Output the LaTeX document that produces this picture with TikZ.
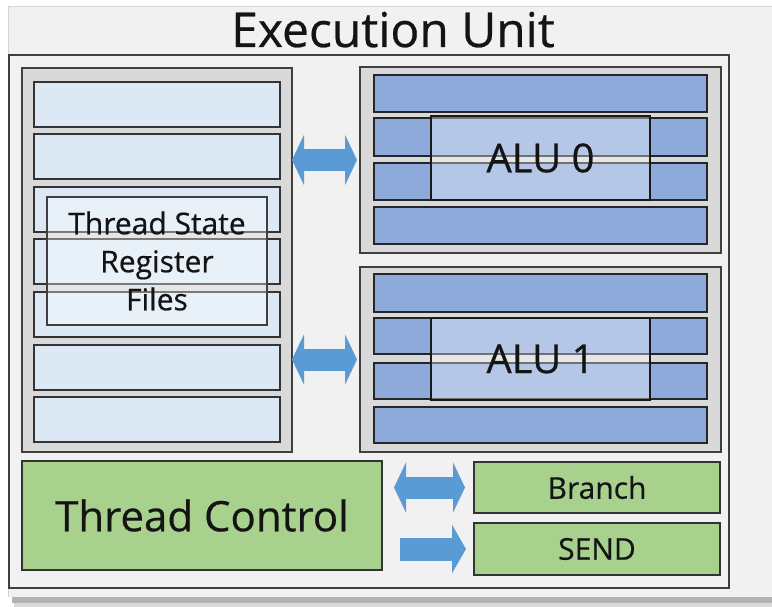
\documentclass[tikz,border=0pt]{standalone}
\usepackage{fontspec}
\setmainfont{Open Sans}[RawFeature={embolden=0.5}]
\usetikzlibrary{arrows.meta}
\definecolor{panel}{HTML}{F1F1F1}
\definecolor{panelline}{HTML}{D4D4D4}
\definecolor{frame}{HTML}{3F3F3F}
\definecolor{contfill}{HTML}{D9D9D9}
\definecolor{regfill}{HTML}{DDE8F5}
\definecolor{alufill}{HTML}{8EAADB}
\definecolor{greenfill}{HTML}{A9D18E}
\definecolor{arrowblue}{HTML}{5B9BD5}
\definecolor{txt}{HTML}{141414}
\begin{document}
\begin{tikzpicture}[x=1pt,y=-1pt,
  box/.style={rectangle, inner sep=0pt, outer sep=0pt, anchor=north west, text=txt},
  container/.style={box, draw=frame, line width=2.2pt, fill=contfill},
  regrow/.style={box, draw=black!80, line width=2pt, fill=regfill},
  alurow/.style={box, draw=black!85, line width=2pt, fill=alufill},
  overlaybox/.style={box, draw=black!75, line width=2pt, fill=white, fill opacity=0.35, text opacity=1},
  greenbox/.style={box, draw=black!80, line width=2pt, fill=greenfill},
  dblarrow/.style={arrowblue, line width=22pt, {Triangle[length=12pt,width=50pt]}-{Triangle[length=12pt,width=50pt]}},
  sglarrow/.style={arrowblue, line width=23pt, -{Triangle[length=14pt,width=48pt]}}
]
\useasboundingbox (0,0) rectangle (772,607);
\fill[white] (0,0) rectangle (772,607);
% shadow
\fill[black!30] (12,597) rectangle (772,603);
\fill[black!15] (14,603) rectangle (772,607);
% panel
\fill[panel] (8,7) rectangle (772,597);
\draw[panelline, line width=1pt] (772,7) -- (8,7) -- (8,597);
\node[anchor=base, font=\fontsize{48}{52}\selectfont, text=txt] (title) at (393,47) {Execution Unit};
% inner frame
\node[box, draw=frame, line width=2.4pt, minimum width=720pt, minimum height=533pt] (eu) at (9,55) {};
% register file container
\node[container, minimum width=270pt, minimum height=384pt] (regs) at (22,68) {};
\node[regrow, minimum width=246pt, minimum height=45pt] (r1) at (34,82) {};
\node[regrow, minimum width=246pt, minimum height=45pt] (r2) at (34,134) {};
\node[regrow, minimum width=246pt, minimum height=45pt] (r3) at (34,187) {};
\node[regrow, minimum width=246pt, minimum height=45pt] (r4) at (34,239) {};
\node[regrow, minimum width=246pt, minimum height=45pt] (r5) at (34,292) {};
\node[regrow, minimum width=246pt, minimum height=45pt] (r6) at (34,345) {};
\node[regrow, minimum width=246pt, minimum height=45pt] (r7) at (34,397) {};
\node[overlaybox, minimum width=220pt, minimum height=128pt, align=center,
      font=\fontsize{30}{38}\selectfont] (tsrf) at (47,197) {Thread State\\Register\\Files};
% ALU 0
\node[container, minimum width=361pt, minimum height=186pt] (alu0c) at (360,67) {};
\node[alurow, minimum width=333pt, minimum height=37pt] (a0r1) at (374,75) {};
\node[alurow, minimum width=333pt, minimum height=38pt] (a0r2) at (374,118) {};
\node[alurow, minimum width=333pt, minimum height=37pt] (a0r3) at (374,163) {};
\node[alurow, minimum width=333pt, minimum height=37pt] (a0r4) at (374,207) {};
\node[overlaybox, draw=black!90, minimum width=219pt, minimum height=84pt,
      font=\fontsize{40}{44}\selectfont] (alu0) at (431,116) {ALU 0};
% ALU 1
\node[container, minimum width=361pt, minimum height=185pt] (alu1c) at (360,267) {};
\node[alurow, minimum width=333pt, minimum height=38pt] (a1r1) at (374,274) {};
\node[alurow, minimum width=333pt, minimum height=36pt] (a1r2) at (374,318) {};
\node[alurow, minimum width=333pt, minimum height=36pt] (a1r3) at (374,363) {};
\node[alurow, minimum width=333pt, minimum height=36pt] (a1r4) at (374,407) {};
\node[overlaybox, draw=black!90, minimum width=219pt, minimum height=82pt,
      font=\fontsize{40}{44}\selectfont] (alu1) at (431,318) {ALU 1};
% bottom row
\node[greenbox, minimum width=360pt, minimum height=109pt,
      font=\fontsize{42}{46}\selectfont] (tc) at (22,461) {Thread Control};
\node[greenbox, minimum width=246pt, minimum height=51pt,
      font=\fontsize{30}{34}\selectfont] (branch) at (474,462) {Branch};
\node[greenbox, minimum width=246pt, minimum height=52pt,
      font=\fontsize{30}{34}\selectfont] (send) at (474,523) {SEND};
% arrows
\draw[dblarrow, shorten <=3pt] (alu0c.west) -- (alu0c.west -| regs.east);
\draw[dblarrow, shorten <=3pt] (alu1c.west) -- (alu1c.west -| regs.east);
\draw[dblarrow, shorten <=9pt, shorten >=12pt] (branch.west) -- (branch.west -| tc.east);
\draw[sglarrow, shorten <=18pt, shorten >=8pt] (send.west -| tc.east) -- (send.west);
\end{tikzpicture}
\end{document}
